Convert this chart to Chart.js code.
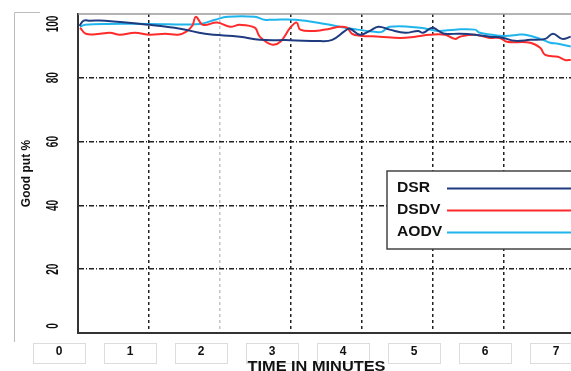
<!DOCTYPE html>
<html>
<head>
<meta charset="utf-8">
<script src="https://cdn.jsdelivr.net/npm/chart.js@4.4.1/dist/chart.umd.min.js"></script>
<style>
  html, body { margin: 0; padding: 0; background: #fff; overflow: hidden; }
</style>
</head>
<body>
<canvas id="myChart" width="575" height="371"></canvas>
<script>
const yTicks = [0, 20, 40, 60, 80, 100];
const xTicks = [0, 1, 2, 3, 4, 5, 6, 7];

const dsrTime = [0.02, 0.08, 0.17, 0.38, 1.01, 1.44, 1.79, 2.28, 2.56, 2.99, 3.41, 3.58, 3.76, 3.83, 3.97, 4.11, 4.23, 4.39, 4.61, 4.79, 4.86, 4.99, 5.10, 5.17, 5.38, 5.59, 5.80, 5.99, 6.15, 6.37, 6.58, 6.69, 6.82, 6.94];
const dsrGoodput = [96.3, 97.9, 97.9, 97.9, 96.6, 95.4, 93.8, 92.9, 91.9, 91.8, 91.5, 91.9, 94.7, 95.4, 93.5, 94.7, 96.0, 95.1, 94.1, 94.7, 94.1, 95.7, 94.4, 93.8, 93.8, 93.5, 92.9, 92.5, 91.6, 91.9, 92.2, 93.8, 92.2, 92.9];

const dsdvTime = [0.03, 0.11, 0.31, 0.45, 0.59, 0.80, 1.01, 1.23, 1.41, 1.52, 1.61, 1.66, 1.76, 1.96, 2.14, 2.28, 2.49, 2.56, 2.73, 2.85, 2.99, 3.08, 3.13, 3.34, 3.55, 3.69, 3.79, 3.86, 3.97, 4.25, 4.54, 4.75, 4.96, 5.17, 5.31, 5.38, 5.59, 5.80, 5.94, 6.04, 6.37, 6.51, 6.58, 6.76, 6.86, 6.94];
const dsdvGoodput = [95.7, 93.8, 93.8, 94.1, 93.5, 94.1, 93.5, 93.8, 93.5, 94.4, 96.3, 99.1, 96.6, 97.3, 96.0, 96.6, 95.7, 92.9, 90.4, 91.3, 95.7, 97.3, 95.1, 94.7, 95.4, 96.0, 95.7, 93.8, 93.2, 92.9, 92.5, 92.9, 93.5, 93.5, 92.2, 92.9, 93.5, 92.5, 92.5, 91.3, 91.0, 89.4, 87.2, 86.6, 85.6, 85.6];

const aodvTime = [0.03, 0.10, 0.42, 1.01, 1.72, 1.93, 2.11, 2.49, 2.63, 2.73, 3.06, 3.48, 3.76, 3.94, 4.18, 4.28, 4.39, 4.82, 5.06, 5.31, 5.59, 5.66, 5.94, 6.08, 6.20, 6.30, 6.51, 6.65, 6.76, 6.94];
const aodvGoodput = [96.0, 96.6, 96.9, 96.9, 96.9, 98.2, 99.1, 99.1, 98.2, 98.2, 98.2, 96.9, 95.7, 95.1, 94.4, 94.4, 96.0, 95.7, 94.7, 95.1, 95.1, 94.1, 93.2, 93.2, 93.5, 93.5, 92.2, 91.0, 90.7, 89.8];

const FONT = '"Liberation Sans", Arial, sans-serif';

function toPoints(xs, ys) {
    return xs.map((x, i) => ({ x, y: ys[i] }));
}

function lineSet(label, xs, ys, color) {
    return {
        label: label,
        data: toPoints(xs, ys),
        borderColor: color,
        backgroundColor: 'transparent',
        borderWidth: 2,
        pointRadius: 0,
        tension: 0.4,
        fill: false
    };
}

// page frame, rotated y labels, axis title, top border and the boxed legend
const decorations = {
    id: 'decorations',
    beforeDraw(chart) {
        const ctx = chart.ctx;
        ctx.save();
        ctx.fillStyle = '#fff';
        ctx.fillRect(0, 0, chart.width, chart.height);
        ctx.strokeStyle = '#bbb';
        ctx.lineWidth = 1;
        ctx.beginPath();
        ctx.moveTo(14.5, 342);
        ctx.lineTo(14.5, 12.5);
        ctx.lineTo(40, 12.5);
        ctx.stroke();
        // faint boxes around the time labels
        const xs = chart.scales.x;
        ctx.strokeStyle = '#dcdcdc';
        xTicks.forEach(v => {
            const cx = xs.getPixelForValue(v) - 19;
            ctx.strokeRect(Math.round(cx - 26) + 0.5, 343.5, 52, 20);
        });
        ctx.restore();
    },
    afterDraw(chart) {
        const ctx = chart.ctx;
        const area = chart.chartArea;
        const ys = chart.scales.y;
        const xs = chart.scales.x;
        ctx.save();
        ctx.strokeStyle = '#9a9a9a';
        ctx.lineWidth = 1.5;
        ctx.beginPath();
        ctx.moveTo(area.left, area.top);
        ctx.lineTo(area.right, area.top);
        ctx.stroke();

        ctx.font = 'bold 10px ' + FONT;
        ctx.fillStyle = '#111';
        ctx.textAlign = 'center';
        ctx.textBaseline = 'middle';
        yTicks.forEach(v => {
            let py = ys.getPixelForValue(v);
            py = Math.min(Math.max(py, ys.top + 10), ys.bottom - 7);
            ctx.save();
            ctx.translate(53, py);
            ctx.rotate(-Math.PI / 2);
            ctx.scale(1, 1.7);
            ctx.fillText(String(v), 0, 0);
            ctx.restore();
        });

        // x axis title, sits a little left of the plot centre in the original
        ctx.font = 'bold 14px ' + FONT;
        const tw = ctx.measureText('TIME IN MINUTES').width;
        ctx.save();
        ctx.translate(xs.getPixelForValue(3.5) - 10, 367);
        ctx.scale(138 / tw, 1);
        ctx.fillText('TIME IN MINUTES', 0, 0);
        ctx.restore();

        // legend
        ctx.fillStyle = '#fff';
        ctx.fillRect(387, 171, 200, 78);
        ctx.strokeStyle = '#444';
        ctx.lineWidth = 1.5;
        ctx.strokeRect(387, 171, 200, 78);
        ctx.font = 'bold 14px ' + FONT;
        ctx.textAlign = 'left';
        chart.data.datasets.forEach((ds, i) => {
            const y = 188 + i * 22;
            ctx.fillStyle = '#111';
            ctx.save();
            ctx.translate(397, y);
            ctx.scale(1.12, 1);
            ctx.fillText(ds.label, 0, 0);
            ctx.restore();
            ctx.strokeStyle = ds.borderColor;
            ctx.lineWidth = 2;
            ctx.beginPath();
            ctx.moveTo(447, y + 0.5);
            ctx.lineTo(580, y + 0.5);
            ctx.stroke();
        });
        ctx.restore();
    }
};

const ctx = document.getElementById('myChart').getContext('2d');
new Chart(ctx, {
    type: 'line',
    data: {
        datasets: [
            lineSet('DSR', dsrTime, dsrGoodput, '#1f3b80'),
            lineSet('DSDV', dsdvTime, dsdvGoodput, '#ff2b2b'),
            lineSet('AODV', aodvTime, aodvGoodput, '#1fb5ec')
        ]
    },
    options: {
        responsive: false,
        animation: false,
        layout: { padding: { top: 14, left: 0, right: 0, bottom: 0 } },
        plugins: {
            legend: { display: false },
            tooltip: { enabled: false }
        },
        scales: {
            x: {
                type: 'linear',
                min: 0,
                max: 7,
                afterFit: s => { s.height = 38; s.paddingLeft = 0; s.paddingRight = 0; },
                ticks: {
                    stepSize: 1,
                    autoSkip: false,
                    maxRotation: 0,
                    padding: 11,
                    labelOffset: -19,
                    color: '#111',
                    font: { family: FONT, size: 12, weight: 'bold' },
                    callback: (v, i) => String(xTicks[i])
                },
                grid: {
                    drawTicks: false,
                    lineWidth: 1.5,
                    color: c => (c.tick.value === 0 || c.tick.value === 7) ? 'rgba(0,0,0,0)' : (c.tick.value === 2 ? '#c4c4c4' : '#222')
                },
                border: { display: true, color: '#333', width: 2, dash: [3, 3] }
            },
            y: {
                min: 0,
                max: 100,
                afterFit: s => { s.width = 78; s.paddingTop = 0; s.paddingBottom = 0; },
                ticks: { display: false, stepSize: 20 },
                grid: {
                    drawTicks: false,
                    lineWidth: 1.5,
                    color: c => (c.tick.value === 0 || c.tick.value === 100) ? 'rgba(0,0,0,0)' : '#222'
                },
                border: { display: true, color: '#333', width: 2, dash: [5, 2, 1, 2] },
                title: {
                    display: true,
                    text: 'Good put %',
                    color: '#111',
                    padding: { top: 19, bottom: 0 },
                    font: { family: FONT, size: 12, weight: 'bold' }
                }
            }
        }
    },
    plugins: [decorations]
});
</script>
</body>
</html>
